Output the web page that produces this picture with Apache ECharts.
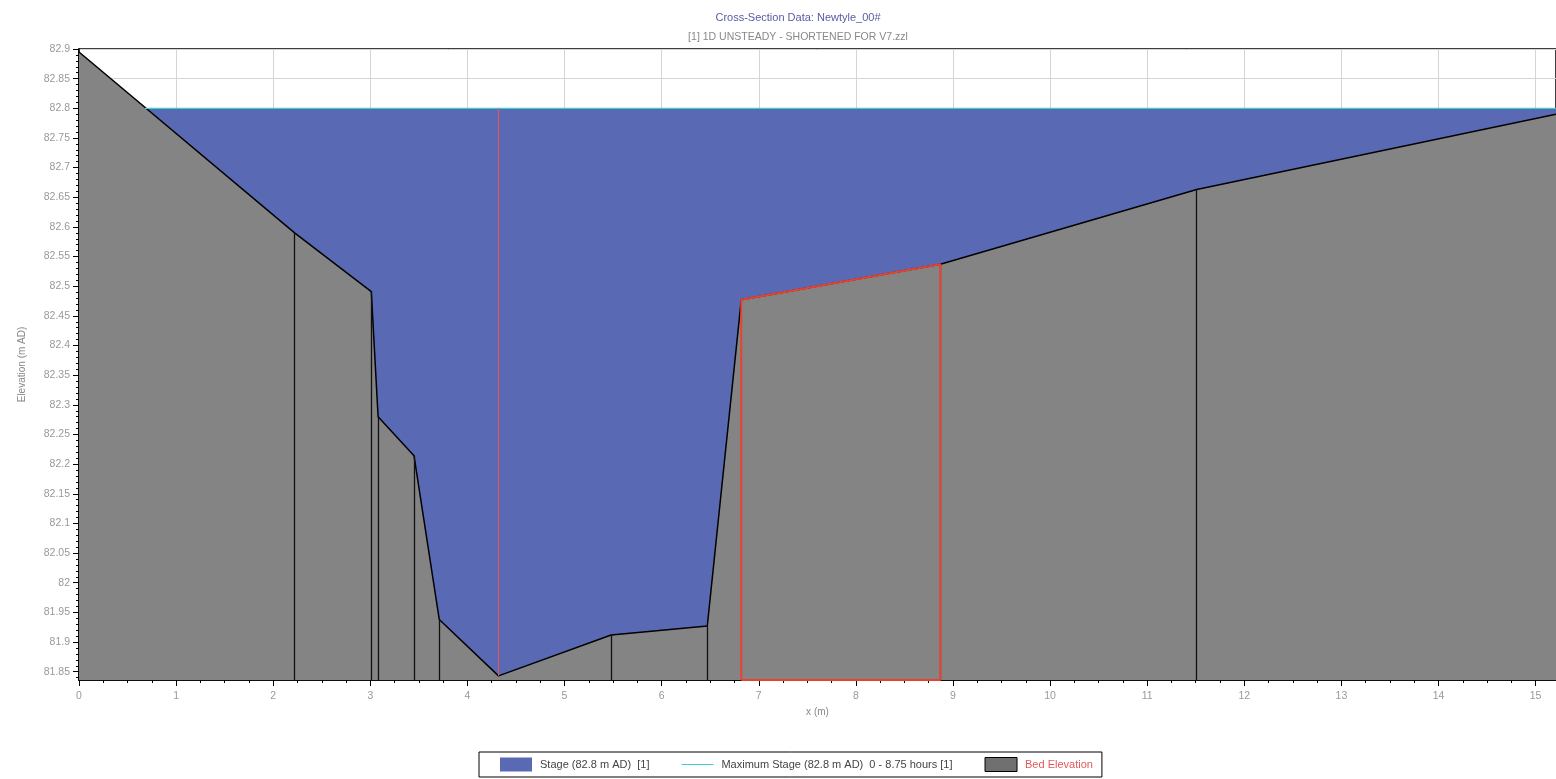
<!DOCTYPE html>
<html>
<head>
<meta charset="utf-8">
<script src="https://cdn.jsdelivr.net/npm/echarts@6/dist/echarts.min.js"></script>
<style>
html,body{margin:0;padding:0;background:#fff;}
#chart{width:1556px;height:779px;}
</style>
</head>
<body>
<div id="chart"></div>
<script>
// ---- data ----
const bedX = [0, 2.22, 3.01, 3.08, 3.45, 3.71, 4.32, 5.48, 6.47, 6.82, 8.87, 11.51, 15.21];
const bedY = [82.895, 82.59, 82.491, 82.28, 82.214, 81.938, 81.843, 81.912, 81.927, 82.477, 82.537, 82.663, 82.79];
const stageLevel = 82.8;
const stageX = [0.68, 15.21];
const maxStageX = [0.68, 15.21];
const panelMarkerX = [2.22, 3.01, 3.08, 3.45, 3.71, 5.48, 6.47, 11.51];
const bankMarkerX = [4.32];
const highlightX = [6.82, 8.87];
const yTickLabels = ['81.85','81.9','81.95','82','82.05','82.1','82.15','82.2','82.25','82.3','82.35','82.4','82.45','82.5','82.55','82.6','82.65','82.7','82.75','82.8','82.85','82.9'];
const xTickLabels = ['0','1','2','3','4','5','6','7','8','9','10','11','12','13','14','15'];
const legendNames = ['Stage (82.8 m AD)  [1]', 'Maximum Stage (82.8 m AD)  0 - 8.75 hours [1]', 'Bed Elevation'];

// ---- layout / style ----
const Y_MIN = 81.836, Y_MAX = 82.9, X_MIN = 0, X_MAX = 15.21;
const BLUE = '#5a69b4', GRAY = '#848484', CYAN = '#3ccfd0', RED = '#e8432e';
const FONT = 'Liberation Sans';

const bedAt = x => bedY[bedX.indexOf(x)];
const yTickVals = yTickLabels.map(Number);
const yMinorVals = [];
for (let i = 0; i <= 106; i++) { const v = +(81.84 + i * 0.01).toFixed(2); if (v <= Y_MAX + 1e-9) yMinorVals.push(v); }

const bedData = bedX.map((x, i) => [x, bedY[i]]);

const markData = panelMarkerX.map(x => [{coord: [x, Y_MIN]}, {coord: [x, bedAt(x)]}]);
markData.push([{coord: [highlightX[1], Y_MIN], lineStyle: {color: '#7a2a2a'}}, {coord: [highlightX[1], bedAt(highlightX[1])]}]);

const chart = echarts.init(document.getElementById('chart'), null, {renderer: 'canvas'});
chart.setOption({
  animation: false,
  backgroundColor: '#fff',
  textStyle: {fontFamily: FONT},
  title: {
    text: 'Cross-Section Data: Newtyle_00#',
    subtext: '[1] 1D UNSTEADY - SHORTENED FOR V7.zzl',
    left: 793, top: 7, textAlign: 'center',
    itemGap: 9,
    textStyle: {fontFamily: FONT, fontSize: 11, fontWeight: 'normal', color: '#5a5aa6'},
    subtextStyle: {fontFamily: FONT, fontSize: 10.5, color: '#888'}
  },
  grid: {left: 79, right: 0, top: 49, bottom: 99, show: true, borderColor: '#000', borderWidth: 1.5, backgroundColor: 'transparent'},
  legend: {
    data: [
      {name: legendNames[0], icon: 'rect', itemStyle: {color: BLUE}},
      {name: legendNames[1], icon: 'path://M0,0 L40,0 L40,1.2 L0,1.2 Z', itemStyle: {color: CYAN}},
      {name: legendNames[2], icon: 'rect', itemStyle: {color: '#707070', borderColor: '#000', borderWidth: 1}, textStyle: {color: '#e05a5a'}}
    ],
    left: 479, top: 752,
    padding: [5, 9, 5, 21],
    itemGap: 32, itemWidth: 32, itemHeight: 14,
    borderColor: '#000', borderWidth: 1,
    textStyle: {fontFamily: FONT, fontSize: 11, color: '#444', padding: [0, 0, 0, 3]}
  },
  xAxis: [{
    type: 'value', min: X_MIN, max: X_MAX, interval: 1,
    name: 'x (m)', nameLocation: 'middle', nameGap: 27,
    nameTextStyle: {fontFamily: FONT, fontSize: 10, color: '#888'},
    axisLine: {show: true, lineStyle: {color: '#000', width: 1.5}},
    axisTick: {show: true, length: 6, lineStyle: {color: '#000'}},
    minorTick: {show: true, splitNumber: 4, length: 3, lineStyle: {color: '#000'}},
    axisLabel: {fontFamily: FONT, fontSize: 10.5, color: '#999', margin: 11, showMaxLabel: false,
      formatter: v => xTickLabels.includes(String(v)) ? String(v) : ''},
    splitLine: {show: true, lineStyle: {color: '#d4d4d4', width: 1}}
  }],
  yAxis: [{
    type: 'value', min: Y_MIN, max: Y_MAX,
    name: 'Elevation (m AD)', nameLocation: 'middle', nameGap: 52, nameRotate: 90,
    nameTextStyle: {fontFamily: FONT, fontSize: 10, color: '#888'},
    axisLine: {show: true, lineStyle: {color: '#000', width: 1.5}},
    axisTick: {show: true, length: 6, lineStyle: {color: '#000'}, customValues: yTickVals},
    axisLabel: {fontFamily: FONT, fontSize: 10.5, color: '#999', margin: 9, customValues: yTickVals,
      formatter: v => yTickLabels[yTickVals.findIndex(t => Math.abs(t - v) < 1e-6)] || ''},
    splitLine: {show: true, lineStyle: {color: '#d4d4d4', width: 1}}
  }, {
    type: 'value', min: Y_MIN, max: Y_MAX, position: 'left',
    axisLine: {show: false},
    axisTick: {show: true, length: 3, lineStyle: {color: '#000'}, customValues: yMinorVals},
    axisLabel: {show: false},
    splitLine: {show: false}
  }],
  series: [
    {
      name: legendNames[0], type: 'line', z: 2,
      data: stageX.map(x => [x, stageLevel]),
      symbol: 'none', lineStyle: {width: 0, color: BLUE}, itemStyle: {color: BLUE},
      areaStyle: {color: BLUE, opacity: 1, origin: 'start'},
      silent: true
    },
    {
      name: legendNames[2], type: 'line', z: 3,
      data: bedData,
      symbol: 'none', lineStyle: {width: 1.5, color: '#000'}, itemStyle: {color: '#707070'},
      areaStyle: {color: GRAY, opacity: 1, origin: 'start'},
      silent: true,
      markLine: {
        silent: true, symbol: 'none', animation: false,
        label: {show: false},
        lineStyle: {color: '#111', width: 1.3, type: 'solid'},
        data: markData
      }
    },
    {
      name: legendNames[1], type: 'line', z: 5,
      data: maxStageX.map(x => [x, stageLevel]),
      symbol: 'none', lineStyle: {width: 1.2, color: CYAN}, itemStyle: {color: CYAN},
      silent: true
    },
    {
      name: 'bank', type: 'line', z: 6,
      data: [[bankMarkerX[0], stageLevel], [bankMarkerX[0], bedAt(bankMarkerX[0])]],
      symbol: 'none', lineStyle: {width: 1.2, color: '#d8556a'}, silent: true
    },
    {
      name: 'highlight', type: 'line', z: 6,
      data: [[highlightX[0], Y_MIN], [highlightX[0], bedAt(highlightX[0])], [highlightX[1], bedAt(highlightX[1])], [highlightX[1], Y_MIN], [highlightX[0], Y_MIN]],
      symbol: 'none', lineStyle: {width: 2, color: RED}, clip: false, silent: true
    }
  ]
});
</script>
</body>
</html>
